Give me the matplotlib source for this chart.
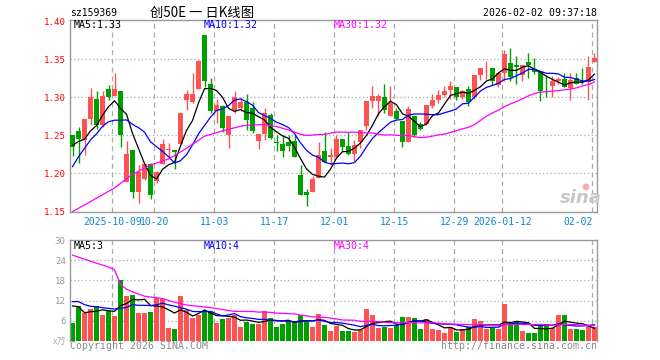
import matplotlib
matplotlib.use('Agg')
import matplotlib.pyplot as plt
import numpy as np
import pandas as pd

# ---------------- data ----------------
opens = [1.250, 1.256, 1.244, 1.272, 1.298, 1.264, 1.311, 1.302, 1.308, 1.189,
         1.231, 1.176, 1.193, 1.212, 1.190, 1.213, 1.231, 1.231, 1.239, 1.297,
         1.294, 1.311, 1.382, 1.317, 1.282, 1.289, 1.251, 1.283, 1.286, 1.294,
         1.286, 1.243, 1.252, 1.277, 1.241, 1.239, 1.241, 1.243, 1.198, 1.175,
         1.176, 1.194, 1.229, 1.221, 1.221, 1.245, 1.236, 1.225, 1.241, 1.263,
         1.295, 1.295, 1.301, 1.276, 1.282, 1.269, 1.242, 1.275, 1.265, 1.265,
         1.289, 1.297, 1.303, 1.310, 1.314, 1.300, 1.311, 1.300, 1.329, 1.338,
         1.339, 1.316, 1.332, 1.345, 1.342, 1.329, 1.346, 1.337, 1.333, 1.314,
         1.315, 1.321, 1.324, 1.312, 1.325, 1.322, 1.320, 1.347]
highs = [1.251, 1.261, 1.271, 1.312, 1.308, 1.308, 1.316, 1.332, 1.308, 1.243,
         1.231, 1.211, 1.213, 1.214, 1.203, 1.245, 1.240, 1.231, 1.280, 1.310,
         1.332, 1.349, 1.382, 1.326, 1.298, 1.290, 1.275, 1.308, 1.300, 1.304,
         1.294, 1.252, 1.286, 1.279, 1.250, 1.250, 1.250, 1.250, 1.211, 1.180,
         1.197, 1.242, 1.254, 1.233, 1.250, 1.245, 1.254, 1.244, 1.257, 1.295,
         1.315, 1.305, 1.317, 1.315, 1.286, 1.269, 1.289, 1.275, 1.268, 1.290,
         1.304, 1.310, 1.315, 1.322, 1.314, 1.310, 1.315, 1.329, 1.339, 1.348,
         1.339, 1.334, 1.362, 1.365, 1.354, 1.343, 1.358, 1.352, 1.333, 1.329,
         1.328, 1.327, 1.332, 1.332, 1.332, 1.338, 1.354, 1.358]
lows = [1.223, 1.214, 1.224, 1.264, 1.258, 1.261, 1.297, 1.302, 1.235, 1.189,
        1.168, 1.161, 1.191, 1.167, 1.188, 1.212, 1.222, 1.206, 1.239, 1.283,
        1.292, 1.311, 1.314, 1.279, 1.266, 1.255, 1.233, 1.280, 1.282, 1.257,
        1.253, 1.232, 1.244, 1.245, 1.229, 1.222, 1.229, 1.221, 1.172, 1.157,
        1.175, 1.194, 1.215, 1.211, 1.220, 1.229, 1.224, 1.216, 1.234, 1.257,
        1.286, 1.275, 1.279, 1.276, 1.272, 1.235, 1.241, 1.248, 1.257, 1.264,
        1.286, 1.293, 1.300, 1.298, 1.297, 1.298, 1.289, 1.298, 1.323, 1.324,
        1.316, 1.314, 1.321, 1.321, 1.318, 1.321, 1.325, 1.331, 1.295, 1.300,
        1.301, 1.318, 1.313, 1.297, 1.317, 1.317, 1.297, 1.346]
closes = [1.235, 1.245, 1.271, 1.300, 1.264, 1.302, 1.301, 1.311, 1.250, 1.225,
          1.176, 1.202, 1.212, 1.172, 1.202, 1.239, 1.232, 1.228, 1.280, 1.304,
          1.304, 1.348, 1.321, 1.282, 1.290, 1.260, 1.275, 1.301, 1.294, 1.270,
          1.256, 1.252, 1.280, 1.246, 1.240, 1.229, 1.236, 1.221, 1.172, 1.172,
          1.193, 1.224, 1.215, 1.224, 1.245, 1.235, 1.226, 1.237, 1.257, 1.295,
          1.302, 1.302, 1.283, 1.293, 1.272, 1.242, 1.285, 1.250, 1.258, 1.290,
          1.297, 1.303, 1.308, 1.315, 1.301, 1.308, 1.294, 1.329, 1.338, 1.339,
          1.322, 1.332, 1.357, 1.327, 1.340, 1.342, 1.342, 1.333, 1.308, 1.313,
          1.322, 1.324, 1.314, 1.323, 1.318, 1.320, 1.340, 1.352]
volumes = [5.4, 10.4, 8.4, 9.5, 10.4, 7.7, 9.0, 7.4, 18.1, 13.4,
           13.7, 8.4, 8.4, 8.7, 12.7, 12.5, 4.0, 3.6, 13.4, 9.2,
           6.9, 7.7, 8.9, 8.9, 5.4, 6.5, 6.9, 7.7, 4.3, 5.7,
           5.0, 5.0, 8.9, 6.7, 4.3, 5.0, 5.9, 5.9, 7.7, 5.9,
           4.3, 7.9, 4.9, 3.0, 4.5, 3.0, 3.0, 2.8, 3.3, 9.5,
           7.7, 4.0, 4.3, 4.0, 4.9, 7.2, 7.2, 6.9, 3.6, 6.5,
           3.6, 3.3, 2.5, 4.3, 2.8, 3.5, 4.3, 6.5, 5.9, 3.6,
           4.0, 3.6, 10.9, 5.2, 5.5, 3.0, 2.5, 2.5, 5.0, 5.0,
           4.0, 7.7, 7.7, 3.6, 3.5, 3.2, 4.4, 4.2]

tick_idx = [7, 14, 24, 34, 44, 54, 64, 72, 87]
tick_labels = ["2025-10-09", "10-20", "11-03", "11-17", "12-01",
               "12-15", "12-29", "2026-01-12", "02-02"]
price_ticks = [1.15, 1.20, 1.25, 1.30, 1.35, 1.40]
price_tick_labels = ["1.15", "1.20", "1.25", "1.30", "1.35", "1.40"]
vol_ticks = [6, 12, 18, 24, 30]

ma5_head = [1.237, 1.242, 1.245, 1.256]
ma10_head = [1.209, 1.222, 1.233, 1.244, 1.252, 1.262, 1.268, 1.270, 1.270]
ma30_head_x = [0, 3, 7, 10, 13, 16, 19, 22, 25, 28]
ma30_head = [1.150, 1.163, 1.181, 1.199, 1.211, 1.219, 1.233, 1.249, 1.256, 1.262]
vol_ma5_head = [10.4, 10.2, 8.4, 8.7]
vol_ma10_head = [11.7, 11.7, 10.8, 10.3, 10.2, 9.9, 9.7, 9.5, 9.7]
vol_ma30_head_x = [0, 2, 4, 6, 7, 8, 9, 10, 12, 15, 17, 19, 23, 27]
vol_ma30_head = [25.5, 24.3, 23.1, 22.0, 21.2, 16.8, 15.4, 14.6, 13.3, 12.6, 11.5, 10.7, 9.9, 8.8]

header_code = "sz159369"
header_title = "创50E 一 日K线图"
header_time = "2026-02-02 09:37:18"
legend_price = ["MA5:1.33", "MA10:1.32", "MA30:1.32"]
legend_vol = ["MA5:3", "MA10:4", "MA30:4"]

# ---------------- styling ----------------
RED = '#ff5353'
GREEN = '#009f00'
C_MA5 = '#000000'
C_MA10 = '#0000ff'
C_MA30 = '#ff00ff'
GRIDC = '#aaaaaa'
FRAME = '#999999'
XLBL = '#0a88d0'
MONO = 'DejaVu Sans Mono'

W, H = 660, 360
fig = plt.figure(figsize=(W / 100, H / 100), dpi=100)
fig.patch.set_facecolor('white')


def fx(px):
    return px / W


def fy(py):
    return 1 - py / H


n = len(closes)
x = np.arange(n)
o = np.array(opens); c = np.array(closes); hi = np.array(highs); lo = np.array(lows)
v = np.array(volumes)
up = c >= o
cols = np.where(up, RED, GREEN)

close_s = pd.Series(closes)
vol_s = pd.Series(volumes)


def ma_line(series, window, head_x, head_vals):
    full = series.rolling(window).mean()
    xs = list(head_x) + list(range(window - 1, len(series)))
    ys = list(head_vals) + list(full.iloc[window - 1:])
    return xs, ys


X0, X1 = -0.42, 87.42
left_px, right_px = 70, 597

# ---------------- price panel ----------------
ax = fig.add_axes([fx(left_px), fy(211.5), fx(right_px - left_px), (211.5 - 20) / H])
ax.set_xlim(X0, X1)
ax.set_ylim(1.15, 1.4017)
for t in price_ticks[1:-1]:
    ax.axhline(t, color=GRIDC, lw=0.9, ls=(0, (1, 2)), zorder=0)
for t in tick_idx:
    ax.axvline(t - 0.35, color=GRIDC, lw=0.9, ls=(0, (4, 3)), zorder=0)

ax.vlines(x, lo, hi, colors=cols, lw=1.0, zorder=2)
ax.bar(x, np.maximum(np.abs(c - o), 0.0009), bottom=np.minimum(o, c), width=0.8,
       color=cols, linewidth=0, zorder=3)

for (w, hx, hv, col) in [(5, range(4), ma5_head, C_MA5),
                         (10, range(9), ma10_head, C_MA10),
                         (30, ma30_head_x, ma30_head, C_MA30)]:
    xs, ys = ma_line(close_s, w, hx, hv)
    ax.plot(xs, ys, color=col, lw=0.9, zorder=4)

ax.set_yticks(price_ticks)
ax.set_yticklabels(price_tick_labels, color='#ff0000', fontfamily=MONO, fontsize=6.6)
ax.set_xticks([t - 0.35 for t in tick_idx])
ax.set_xticklabels(tick_labels, color=XLBL, fontfamily=MONO, fontsize=7)
xl = ax.get_xticklabels()
xl[-1].set_ha('right')
ax.tick_params(axis='both', length=0, pad=3)
ax.tick_params(axis='x', pad=4)
for s in ax.spines.values():
    s.set_color(FRAME); s.set_linewidth(1)

# sina watermark
fig.text(fx(581), fy(198), 'sina', fontsize=13, fontweight='bold', style='italic',
         color='#c8c8c8', ha='center', va='center', family='DejaVu Sans')
fig.patches.append(matplotlib.patches.Ellipse((fx(586), fy(187)), 7 / W, 7 / H,
                                              transform=fig.transFigure,
                                              facecolor='#f4b0b0', edgecolor='none'))

# ---------------- volume panel ----------------
axv = fig.add_axes([fx(left_px), fy(341), fx(right_px - left_px), (341 - 240) / H])
axv.set_xlim(X0, X1)
axv.set_ylim(0, 30)
for t in vol_ticks[:-1]:
    axv.axhline(t, color=GRIDC, lw=0.9, ls=(0, (1, 2)), zorder=0)
for t in tick_idx:
    axv.axvline(t - 0.35, color=GRIDC, lw=0.9, ls=(0, (4, 3)), zorder=0)
axv.bar(x, v, width=0.8, color=cols, linewidth=0, zorder=2)
for (w, hx, hv, col) in [(5, range(4), vol_ma5_head, C_MA5),
                         (10, range(9), vol_ma10_head, C_MA10),
                         (30, vol_ma30_head_x, vol_ma30_head, C_MA30)]:
    xs, ys = ma_line(vol_s, w, hx, hv)
    axv.plot(xs, ys, color=col, lw=0.9, zorder=4)
axv.set_yticks(vol_ticks)
axv.set_yticklabels([str(t) for t in vol_ticks], color='#999999', fontfamily=MONO, fontsize=6.6)
axv.set_xticks([])
axv.tick_params(axis='both', length=0, pad=3)
for k, s in axv.spines.items():
    s.set_color(FRAME); s.set_linewidth(1)
axv.spines['bottom'].set_visible(False)

# ---------------- texts ----------------
fig.text(fx(70), fy(13), header_code, fontsize=7, family=MONO, color='black', va='center', ha='left')
fig.text(fx(150), fy(12.5), header_title, fontsize=9.6, family=['Noto Sans CJK SC', 'DejaVu Sans'],
         color='black', va='center', ha='left')
fig.text(fx(597), fy(12.5), header_time, fontsize=7.1, family=MONO, color='black', va='center', ha='right')

for txt, px, col in zip(legend_price, [74, 204, 334], [C_MA5, C_MA10, C_MA30]):
    fig.text(fx(px), fy(25.5), txt, fontsize=7.2, family=MONO, color=col, va='center', ha='left')
for txt, px, col in zip(legend_vol, [74, 204, 334], [C_MA5, C_MA10, C_MA30]):
    fig.text(fx(px), fy(246), txt, fontsize=7.2, family=MONO, color=col, va='center', ha='left')

fig.text(fx(66), fy(341), 'x万', fontsize=6.6, family=['Noto Sans CJK SC', 'DejaVu Sans'],
         color='#aaaaaa', va='center', ha='right')
fig.text(fx(70), fy(346), 'Copyright 2026 SINA.COM', fontsize=7.1, family=MONO,
         color='#888888', va='center', ha='left')
fig.text(fx(597), fy(346), 'http://finance.sina.com.cn', fontsize=7.1, family=MONO,
         color='#888888', va='center', ha='right')

fig.savefig('out.png', dpi=100, facecolor='white')
